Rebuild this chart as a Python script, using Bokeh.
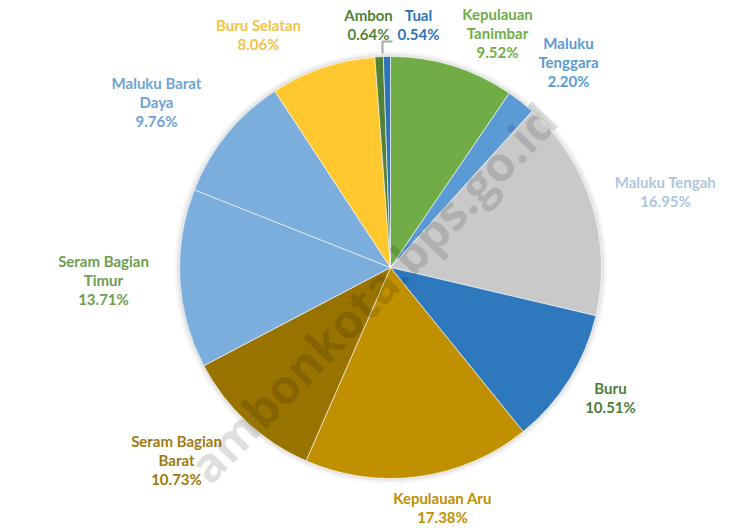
import numpy as np
from bokeh.plotting import figure
from bokeh.models import ColumnDataSource, Range1d
from bokeh.core.properties import value
from bokeh.embed import file_html
from bokeh.resources import INLINE

# ---- data (clockwise from 12 o'clock) ----
regions = ["Kepulauan Tanimbar", "Maluku Tenggara", "Maluku Tengah", "Buru",
           "Kepulauan Aru", "Seram Bagian Barat", "Seram Bagian Timur",
           "Maluku Barat Daya", "Buru Selatan", "Ambon", "Tual"]
shares = [9.52, 2.20, 16.95, 10.51, 17.38, 10.73, 13.71, 9.76, 8.06, 0.64, 0.54]
label_lines = [["Kepulauan", "Tanimbar"], ["Maluku", "Tenggara"], ["Maluku Tengah"], ["Buru"],
               ["Kepulauan Aru"], ["Seram Bagian", "Barat"], ["Seram Bagian", "Timur"],
               ["Maluku Barat", "Daya"], ["Buru Selatan"], ["Ambon"], ["Tual"]]

slice_colors = ["#70AD47", "#5B9BD5", "#C9C9C9", "#2E78BE", "#C09000", "#997300",
                "#7BAEDC", "#7BAEDC", "#FFC82E", "#548235", "#2E75B6"]
label_colors = ["#70AD47", "#5B9BD5", "#AFC6DE", "#4E7C3A", "#C09000", "#9E7A10",
                "#6E9E50", "#6FA3D6", "#F5C342", "#548235", "#2E75B6"]

# label block centres (picture pixels, layout only)
label_pos = [(497, 32), (568, 61), (665, 191), (610, 397), (442, 507), (176, 459),
             (103, 279), (156, 101), (258, 34), (368, 24), (418, 24)]
line_step = 19

W, H = 745, 528
def px(x):
    return x
def py(y):
    return H - y

cx, cy, r = px(390), py(267), 211

frac = np.array(shares) / np.sum(shares)
cum = np.concatenate([[0], np.cumsum(frac)])
start = np.pi / 2 - 2 * np.pi * cum[:-1]
end = np.pi / 2 - 2 * np.pi * cum[1:]

src = ColumnDataSource(dict(start=start, end=end, color=slice_colors,
                            x=[cx] * len(shares), y=[cy] * len(shares)))

lx, ly, lt, lc = [], [], [], []
for lines, s, (ax, ay), col in zip(label_lines, shares, label_pos, label_colors):
    all_lines = lines + [f"{s:.2f}%"]
    n = len(all_lines)
    for i, t in enumerate(all_lines):
        lx.append(px(ax))
        ly.append(py(ay + (i - (n - 1) / 2) * line_step))
        lt.append(t)
        lc.append(col)
lsrc = ColumnDataSource(dict(x=lx, y=ly, text=lt, color=lc))

p = figure(width=W, height=H, output_backend="svg", toolbar_location=None,
           x_range=Range1d(0, W), y_range=Range1d(0, H), min_border=0)
p.axis.visible = False
p.grid.visible = False
p.outline_line_color = None
p.background_fill_color = "white"

# soft shadow
p.circle(x=[cx], y=[cy], radius=r + 5, fill_color="black", fill_alpha=0.04, line_color=None)
p.circle(x=[cx], y=[cy], radius=r + 2.5, fill_color="black", fill_alpha=0.06, line_color=None)

p.wedge(x="x", y="y", radius=r, start_angle="start", end_angle="end",
        direction="clock", fill_color="color", line_color="white",
        line_width=0.6, source=src)

# leader line for Ambon / Tual
p.line(x=[px(382), px(382), px(392)], y=[py(53), py(41), py(41)],
       line_color="#A6A6A6", line_width=2)

p.text(x="x", y="y", text="text", text_color="color", source=lsrc,
       text_align="center", text_baseline="middle",
       text_font=value("Lato"), text_font_style="bold",
       text_font_size="15px")

# watermark
p.text(x=[px(372)], y=[py(292)], text=["ambonkota.bps.go.id"],
       angle=np.deg2rad(46), text_align="center", text_baseline="middle",
       text_font=value("Open Sans"), text_font_style="bold",
       text_font_size="48px", text_color="black", text_alpha=0.12)

open("out.html", "w").write(file_html(p, INLINE))
